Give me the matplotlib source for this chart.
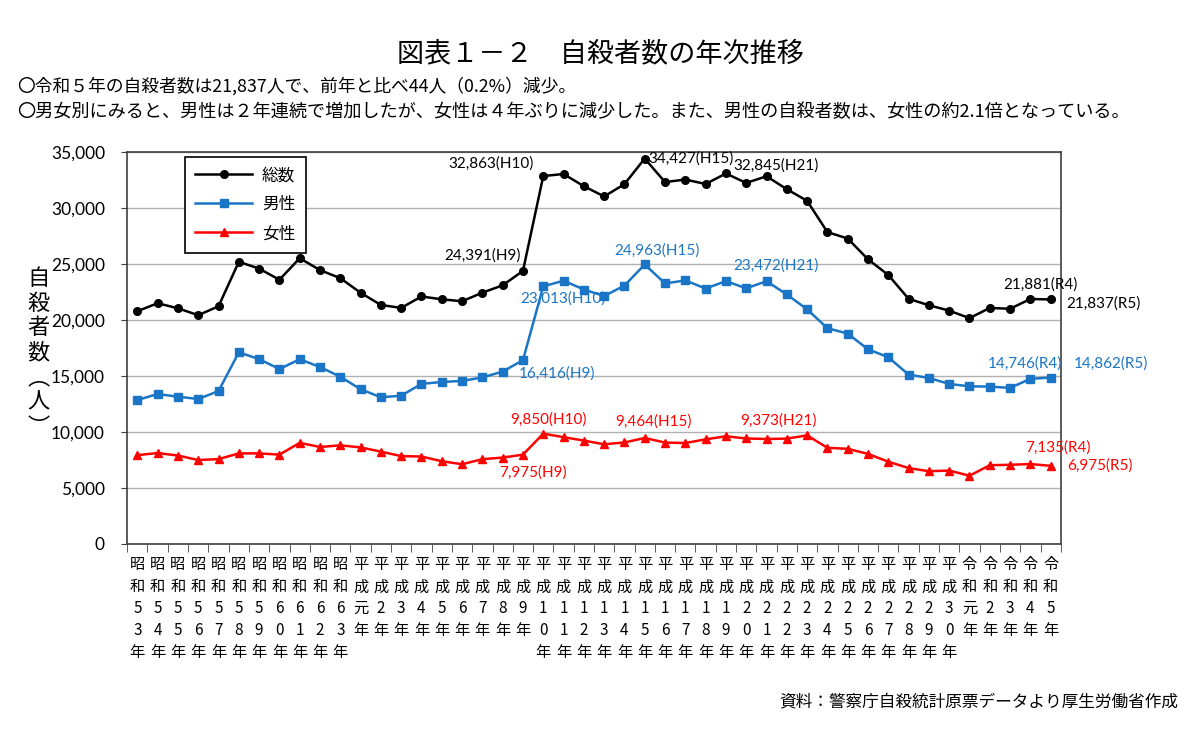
import matplotlib
matplotlib.use("Agg")
import matplotlib.pyplot as plt
from matplotlib.ticker import FuncFormatter, FixedLocator

plt.rcParams['font.family'] = ['Noto Sans CJK JP', 'DejaVu Sans']

# year labels (era + year)
years = (["昭和5%d年" % i for i in range(3, 10)]
         + ["昭和6%d年" % i for i in range(0, 4)]
         + ["平成元年"] + ["平成%d年" % i for i in range(2, 31)]
         + ["令和元年"] + ["令和%d年" % i for i in range(2, 6)])

total = [20788, 21503, 21048, 20434, 21228, 25202, 24596, 23599, 25524, 24460,
         23742, 22436, 21346, 21084, 22104, 21851, 21679, 22445, 23104, 24391,
         32863, 33048, 31957, 31042, 32143, 34427, 32325, 32552, 32155, 33093,
         32249, 32845, 31690, 30651, 27858, 27283, 25427, 24025, 21897, 21321,
         20840, 20169, 21081, 21007, 21881, 21837]
male = [12859, 13386, 13155, 12942, 13654, 17116, 16508, 15624, 16497, 15802,
        14934, 13818, 13102, 13242, 14296, 14468, 14560, 14874, 15393, 16416,
        23013, 23512, 22727, 22144, 23080, 24963, 23272, 23540, 22813, 23478,
        22831, 23472, 22283, 20955, 19273, 18787, 17386, 16681, 15121, 14826,
        14290, 14078, 14055, 13939, 14746, 14862]
female = [7929, 8117, 7893, 7492, 7574, 8086, 8088, 7975, 9027, 8658,
          8808, 8618, 8244, 7842, 7808, 7383, 7119, 7571, 7711, 7975,
          9850, 9536, 9230, 8898, 9063, 9464, 9053, 9012, 9342, 9615,
          9418, 9373, 9407, 9696, 8585, 8496, 8041, 7344, 6776, 6495,
          6550, 6091, 7026, 7068, 7135, 6975]

BLACK = '#000000'
BLUE = '#1a75c6'
RED = '#ff0000'

def vlabel(s):
    # 平成10年 -> stacked characters
    return "\n".join(list(s))

fig = plt.figure(figsize=(12, 7.35), dpi=100)
ax = fig.add_axes([0.106, 0.260, 0.778, 0.533])

x = list(range(len(years)))
ax.plot(x, total, color=BLACK, marker='o', markersize=5.5, lw=1.8, label='総数')
ax.plot(x, male, color=BLUE, marker='s', markersize=5.5, lw=1.8, label='男性')
ax.plot(x, female, color=RED, marker='^', markersize=6, lw=1.8, label='女性')

ax.set_xlim(-0.5, len(years) - 0.5)
ax.set_ylim(0, 35000)
ax.set_yticks(range(0, 35001, 5000))
ax.yaxis.set_major_formatter(FuncFormatter(lambda v, p: f"{int(v):,}"))
ax.grid(axis='y', color='#b0b0b0', lw=1)
ax.set_axisbelow(True)
for s in ax.spines.values():
    s.set_color('#404040')
    s.set_linewidth(1.2)

ax.set_xticks(x)
ax.set_xticklabels([vlabel(y) for y in years], fontsize=11, linespacing=1.38,
                   va='top')
ax.tick_params(axis='x', which='major', length=0, pad=9)
ax.xaxis.set_minor_locator(FixedLocator([i - 0.5 for i in range(len(years) + 1)]))
ax.tick_params(axis='x', which='minor', length=6, color='#404040', direction='out')
ax.tick_params(axis='y', length=4, labelsize=12.5, color='#404040', pad=12)
for t in ax.get_yticklabels():
    t.set_family(['Lato', 'DejaVu Sans'])

leg = ax.legend(loc='upper left', bbox_to_anchor=(0.062, 0.988), fontsize=12,
                frameon=True, fancybox=False, edgecolor='black', labelspacing=0.72,
                handlelength=3.4, borderpad=0.62, borderaxespad=0, framealpha=1,
                handletextpad=0.6)
leg.get_frame().set_linewidth(1.2)

# value annotations: (series, colour, index, text, dx px, dy px, ha)
notes = [
    (total, BLACK, 20, "32,863(H10)", -10, 13, 'right'),
    (total, BLACK, 25, "34,427(H15)", 4, 0, 'left'),
    (total, BLACK, 31, "32,845(H21)", 10, 11, 'center'),
    (total, BLACK, 19, "24,391(H9)", -2, 15, 'right'),
    (total, BLACK, 44, "21,881(R4)", 10, 14, 'center'),
    (total, BLACK, 45, "21,837(R5)", 16, -4, 'left'),
    (male, BLUE, 20, "23,013(H10)", -23, -12, 'left'),
    (male, BLUE, 25, "24,963(H15)", 12, 14, 'center'),
    (male, BLUE, 31, "23,472(H21)", 9, 16, 'center'),
    (male, BLUE, 19, "16,416(H9)", -4, -13, 'left'),
    (male, BLUE, 44, "14,746(R4)", -5, 15, 'center'),
    (male, BLUE, 45, "14,862(R5)", 23, 14, 'left'),
    (female, RED, 20, "9,850(H10)", 5, 14, 'center'),
    (female, RED, 25, "9,464(H15)", 9, 16, 'center'),
    (female, RED, 31, "9,373(H21)", 12, 18, 'center'),
    (female, RED, 19, "7,975(H9)", 10, -18, 'center'),
    (female, RED, 44, "7,135(R4)", 28, 16, 'center'),
    (female, RED, 45, "6,975(R5)", 16, 0, 'left'),
]
for ser, col, i, txt, dx, dy, ha in notes:
    ax.annotate(txt, xy=(i, ser[i]), xytext=(dx, dy), textcoords='offset pixels',
                ha=ha, va='center', color=col, fontsize=11,
                family=['Lato', 'DejaVu Sans'], annotation_clip=False)

# y axis label, stacked vertically
fig.text(0.032, 0.520, "自\n殺\n者\n数\n︵\n人\n︶", fontsize=16, ha='center',
         va='center', linespacing=1.1)

fig.text(0.5, 0.927, "図表１－２　自殺者数の年次推移", fontsize=19.5, ha='center',
         va='center')
fig.text(0.014, 0.883, "〇令和５年の自殺者数は21,837人で、前年と比べ44人（0.2%）減少。",
         fontsize=12.8, ha='left', va='center')
fig.text(0.014, 0.847, "〇男女別にみると、男性は２年連続で増加したが、女性は４年ぶりに減少した。"
         "また、男性の自殺者数は、女性の約2.1倍となっている。",
         fontsize=13.1, ha='left', va='center')
fig.text(0.982, 0.045, "資料：警察庁自殺統計原票データより厚生労働省作成",
         fontsize=12, ha='right', va='center')

fig.savefig('out.png', dpi=100)
